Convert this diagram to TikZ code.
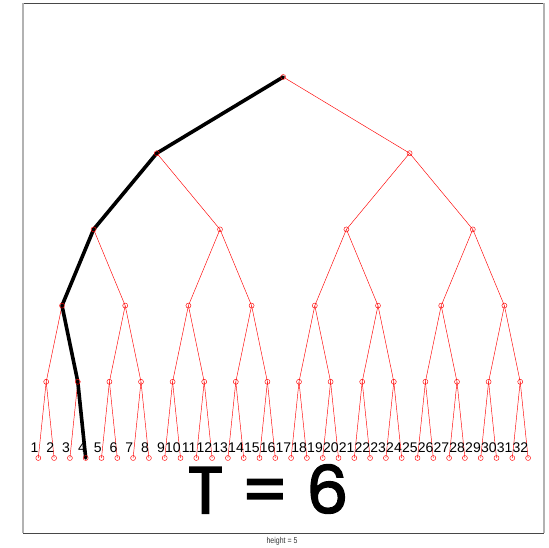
\documentclass[tikz,border=0pt]{standalone}
\usepackage{fontspec}
\setmainfont{Liberation Sans}
\newfontfamily\bigfont[FakeBold=2.5]{Poppins}
\begin{document}
\begin{tikzpicture}[x=1pt,y=-1pt,
  treenode/.style={circle,draw=red,inner sep=0pt,minimum size=5pt,line width=0.45pt},
  edge/.style={draw=red,line width=0.45pt},
  pathedge/.style={draw=black,line width=3.6pt,line join=round,line cap=round},
  leaflabel/.style={anchor=base east,inner sep=0pt,font=\fontsize{14}{14}\selectfont},
  framedark/.style={draw=black!72,line width=0.9pt},
  framelight/.style={draw=black!30,line width=1.3pt}]
\useasboundingbox (0,0) rectangle (549,548);
% frame
\draw[framedark] (23,3) -- (544,3);
\draw[framedark] (23,533) -- (544,533);
\draw[framelight] (23,3) -- (23,533);
\draw[framelight] (544,3) -- (544,533);
% nodes
\foreach \L in {0,...,5}{
  \pgfmathtruncatemacro\nmax{2^\L-1}
  \pgfmathtruncatemacro\wid{2^(5-\L)}
  \foreach \i in {0,...,\nmax}{
    \pgfmathsetmacro\xx{38.3+15.8*((\i+0.5)*\wid-0.5)}
    \pgfmathsetmacro\yy{77+76.2*\L}
    \coordinate (n-\L-\i) at (\xx,\yy);
  }
}
% edges
\foreach \L in {0,...,4}{
  \pgfmathtruncatemacro\nmax{2^\L-1}
  \pgfmathtruncatemacro\nxt{\L+1}
  \foreach \i in {0,...,\nmax}{
    \pgfmathtruncatemacro\ca{2*\i}
    \pgfmathtruncatemacro\cb{2*\i+1}
    \draw[edge] (n-\L-\i) -- (n-\nxt-\ca);
    \draw[edge] (n-\L-\i) -- (n-\nxt-\cb);
  }
}
% highlighted path
\draw[pathedge] (n-0-0) -- (n-1-0) -- (n-2-0) -- (n-3-0) -- (n-4-1) -- (n-5-3);
% circles
\foreach \L in {0,...,5}{
  \pgfmathtruncatemacro\nmax{2^\L-1}
  \foreach \i in {0,...,\nmax}{
    \node[treenode] (c-\L-\i) at (n-\L-\i) {};
  }
}
% leaf labels
\foreach \j in {1,...,32}{
  \pgfmathsetmacro\xx{38.3+15.8*(\j-1)+0.3}
  \node[leaflabel] (lab-\j) at (\xx,452) {\j};
}
% T = 6
\node[font=\bigfont\fontsize{66}{66}\selectfont,inner sep=0pt] (tlabel) at (268,489) {T = 6};
% height
\node[inner sep=0pt,text=black!80] (hlabel) at (282,541.5) {\scalebox{0.82}[1]{\fontsize{8.5}{9}\selectfont height = 5}};
\end{tikzpicture}
\end{document}
